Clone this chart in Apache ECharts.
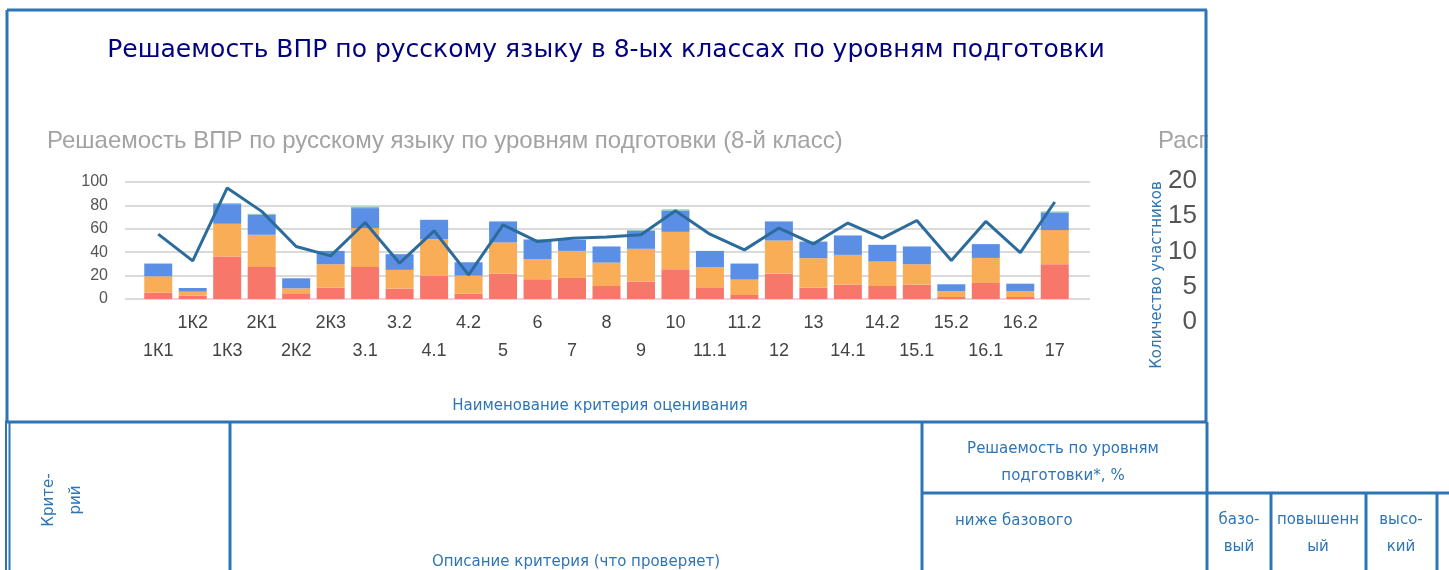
<!DOCTYPE html>
<html>
<head>
<meta charset="utf-8">
<script src="https://cdn.jsdelivr.net/npm/echarts@6/dist/echarts.min.js"></script>
<style>
  html, body { margin: 0; padding: 0; background: #fff; }
  #chart { width: 1449px; height: 570px; }
</style>
</head>
<body>
<div id="chart"></div>
<script>
const categories = ['1К1', '1К2', '1К3', '2К1', '2К2', '2К3', '3.1', '3.2', '4.1', '4.2', '5', '6', '7', '8', '9',
  '10', '11.1', '11.2', '12', '13', '14.1', '14.2', '15.1', '15.2', '16.1', '16.2', '17'];

// stacked shares by level, %
const belowBasic = [5.4, 2.9, 36.3, 27.4, 4.9, 9.7, 27.4, 8.9, 20.0, 4.6, 21.7, 16.9, 18.0, 11.1, 14.9,
  25.4, 10.0, 3.4, 21.7, 9.7, 12.3, 11.1, 12.3, 1.7, 13.7, 1.7, 29.7];
const basic = [14.0, 3.4, 28.0, 27.5, 4.2, 20.0, 33.2, 16.0, 31.1, 15.4, 26.6, 17.1, 23.1, 20.0, 28.0,
  32.0, 17.1, 13.2, 28.3, 25.2, 25.4, 20.9, 17.4, 4.9, 21.4, 4.9, 29.2];
const advanced = [10.9, 3.1, 16.8, 17.1, 8.6, 11.4, 17.1, 13.4, 16.6, 11.4, 18.0, 16.9, 9.5, 13.8, 15.4,
  18.0, 14.0, 13.7, 16.3, 14.2, 16.6, 14.3, 15.2, 6.0, 11.8, 6.5, 15.1];
const high = [0, 0, 0.8, 0.8, 0, 0, 1.2, 0, 0, 0, 0, 0, 0, 0, 0.7,
  1.2, 0, 0, 0, 0, 0, 0, 0, 0, 0, 0, 0.8];
const overall = [55.4, 32.6, 94.9, 74.9, 44.9, 36.9, 65.4, 30.6, 58.3, 20.6, 63.4, 49.1, 52.0, 52.9, 54.9,
  75.4, 55.4, 42.0, 60.6, 47.1, 64.9, 52.0, 67.1, 32.9, 66.3, 39.7, 82.9];

const BLUE = '#2e75b6';
const docFont = '"DejaVu Sans", sans-serif';
const chartFont = '"Liberation Sans", Arial, sans-serif';

const chart = echarts.init(document.getElementById('chart'));

function line(x1, y1, x2, y2, w) {
  return {
    type: 'line', z: 60, silent: true,
    shape: { x1: x1, y1: y1, x2: x2, y2: y2 },
    style: { stroke: BLUE, lineWidth: w || 3 }
  };
}

function text(str, x, y, opts) {
  opts = opts || {};
  return {
    type: 'text', z: opts.z || 60, silent: true,
    x: x, y: y, rotation: opts.rotation || 0,
    style: {
      text: str,
      fill: opts.color || BLUE,
      font: opts.font || ('15px ' + docFont),
      align: opts.align || 'center',
      verticalAlign: 'middle',
      lineHeight: opts.lineHeight || 20
    }
  };
}

const barSeries = [
  { name: 'ниже базового', data: belowBasic, color: '#f7776b' },
  { name: 'базовый', data: basic, color: '#f9ad57' },
  { name: 'повышенный', data: advanced, color: '#5b8fe6' },
  { name: 'высокий', data: high, color: '#7fc9a8' }
].map(s => ({
  name: s.name,
  type: 'bar',
  stack: 'levels',
  xAxisIndex: 1,
  yAxisIndex: 1,
  barWidth: 28,
  data: s.data,
  itemStyle: { color: s.color },
  silent: true
}));

const option = {
  animation: false,
  backgroundColor: '#fff',
  grid: [
    { left: 125, right: 359, top: 182, bottom: 271 },
    { left: 141, right: 377, top: 182, bottom: 271 },
    { left: 1206, width: 200, top: 181, bottom: 248 }
  ],
  xAxis: [
    { gridIndex: 0, type: 'category', data: categories, show: false },
    {
      gridIndex: 1, type: 'category', data: categories,
      axisLine: { show: false }, axisTick: { show: false },
      axisLabel: {
        interval: 0, margin: 10, fontSize: 18, lineHeight: 28,
        color: '#444', fontFamily: chartFont,
        formatter: (v, i) => (i % 2 === 0 ? '\n' + v : v)
      }
    },
    { gridIndex: 2, type: 'category', data: [''], show: false }
  ],
  yAxis: [
    {
      gridIndex: 0, type: 'value', min: 0, max: 100, interval: 20,
      axisLine: { show: false }, axisTick: { show: false },
      axisLabel: { margin: 17, fontSize: 16, color: '#555', fontFamily: chartFont },
      splitLine: { lineStyle: { color: '#dadada', width: 2 } }
    },
    { gridIndex: 1, type: 'value', min: 0, max: 100, interval: 20, show: false },
    {
      gridIndex: 2, type: 'value', min: 0, max: 20, interval: 5,
      axisLine: { show: false }, axisTick: { show: false },
      axisLabel: { margin: 9, fontSize: 26, color: '#555', fontFamily: chartFont },
      splitLine: { show: false }
    }
  ],
  series: barSeries.concat([{
    name: 'решаемость',
    type: 'line',
    xAxisIndex: 1,
    yAxisIndex: 1,
    data: overall,
    symbol: 'none',
    lineStyle: { color: '#2c6c9c', width: 3 },
    z: 5,
    silent: true
  }]),
  graphic: [
    text('Решаемость ВПР по русскому языку в 8-ых классах по уровням подготовки', 606, 50,
      { color: '#000080', font: '25px ' + docFont }),
    text('Решаемость ВПР по русскому языку по уровням подготовки (8-й класс)', 47, 141,
      { color: '#a3a3a3', font: '24px ' + chartFont, align: 'left' }),
    text('Распределение участников по баллам', 1158, 141,
      { color: '#a3a3a3', font: '24px ' + chartFont, align: 'left', z: 10 }),
    {
      type: 'rect', z: 50, silent: true,
      shape: { x: 1208, y: 110, width: 241, height: 310 },
      style: { fill: '#fff' }
    },
    text('Количество участников', 1157, 275, { rotation: Math.PI / 2 }),
    text('Наименование критерия оценивания', 600, 406),
    text('Крите-\nрий', 63, 500, { rotation: Math.PI / 2, lineHeight: 27 }),
    text('Описание критерия (что проверяет)', 576, 562),
    text('Решаемость по уровням\nподготовки*, %', 1063, 463, { lineHeight: 27 }),
    text('ниже базового', 955, 521, { align: 'left' }),
    text('базо-\nвый', 1239, 534, { lineHeight: 27 }),
    text('повышенн\nый', 1318, 534, { lineHeight: 27 }),
    text('высо-\nкий', 1401, 534, { lineHeight: 27 }),
    // frame and table rules
    line(7, 10, 1207, 10),
    line(7, 10, 7, 422),
    line(1206, 10, 1206, 422),
    line(5, 422, 1207, 422),
    line(6, 422, 6, 570, 2),
    line(9.5, 422, 9.5, 570, 2),
    line(230, 422, 230, 570),
    line(922, 422, 922, 570),
    line(1207, 422, 1207, 570),
    line(922, 493, 1449, 493),
    line(1271, 493, 1271, 570),
    line(1366, 493, 1366, 570),
    line(1437, 493, 1437, 570)
  ]
};

chart.setOption(option);
window.addEventListener('resize', () => chart.resize());
</script>
</body>
</html>
